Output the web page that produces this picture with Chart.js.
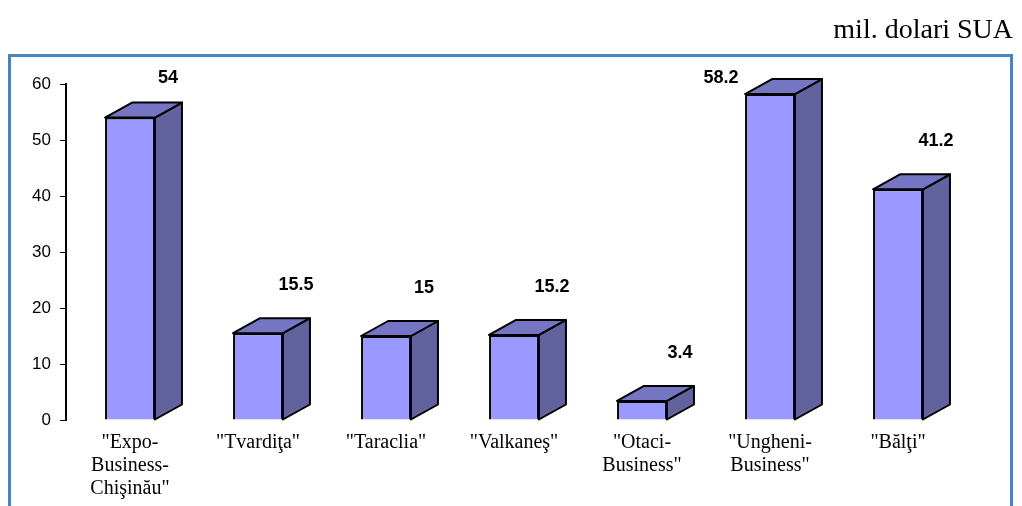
<!DOCTYPE html>
<html>
<head>
<meta charset="utf-8">
<script src="https://cdn.jsdelivr.net/npm/chart.js@4"></script>
<style>
    html, body { margin: 0; padding: 0; background: #fff; }
    #wrap { width: 1022px; height: 506px; position: relative; }
</style>
</head>
<body>
<div id="wrap"><canvas id="zoneChart"></canvas></div>
<script>
// free economic zones, mil. USD
const categories = [
    ['"Expo-', 'Business-', 'Chişinău"'],
    '"Tvardiţa"',
    '"Taraclia"',
    '"Valkaneş"',
    ['"Otaci-', 'Business"'],
    ['"Ungheni-', 'Business"'],
    '"Bălţi"'
];
const values = [54, 15.5, 15, 15.2, 3.4, 58.2, 41.2];
const yTicks = [0, 10, 20, 30, 40, 50, 60];

const unitLabel = "mil. dolari SUA";
const depthX = 27;
const depthY = 15;

// frame + unit text
const framePlugin = {
    id: "frame",
    beforeDraw(chart) {
        const ctx = chart.ctx;
        ctx.save();
        ctx.fillStyle = "#fff";
        ctx.fillRect(0, 0, chart.width, chart.height);
        ctx.strokeStyle = "#4f81bd";
        ctx.lineWidth = 3;
        ctx.strokeRect(9.5, 55.5, 1002, 480);
        ctx.fillStyle = "#000";
        ctx.font = "28px 'Liberation Serif'";
        ctx.textAlign = "right";
        ctx.textBaseline = "alphabetic";
        ctx.fillText(unitLabel, 1013, 38);
        ctx.restore();
    }
};

// side and top faces of the bars, drawn behind the front face
const boxPlugin = {
    id: "box3d",
    beforeDatasetsDraw(chart) {
        const ctx = chart.ctx;
        const meta = chart.getDatasetMeta(0);
        ctx.save();
        ctx.lineWidth = 2;
        ctx.lineJoin = "round";
        ctx.strokeStyle = "#000";
        meta.data.forEach(bar => {
            const half = bar.width / 2;
            const left = bar.x - half;
            const right = bar.x + half;
            const top = bar.y;
            const base = bar.base;

            ctx.beginPath();
            ctx.moveTo(right, top);
            ctx.lineTo(right + depthX, top - depthY);
            ctx.lineTo(right + depthX, base - depthY);
            ctx.lineTo(right, base);
            ctx.closePath();
            ctx.fillStyle = "#62629f";
            ctx.fill();
            ctx.stroke();

            ctx.beginPath();
            ctx.moveTo(left, top);
            ctx.lineTo(left + depthX, top - depthY);
            ctx.lineTo(right + depthX, top - depthY);
            ctx.lineTo(right, top);
            ctx.closePath();
            ctx.fillStyle = "#7575c4";
            ctx.fill();
            ctx.stroke();
        });
        ctx.restore();
    },
    afterDatasetsDraw(chart) {
        const ctx = chart.ctx;
        const meta = chart.getDatasetMeta(0);
        const minY = chart.chartArea.top - 6;
        ctx.save();
        ctx.fillStyle = "#000";
        ctx.font = "bold 18px 'Liberation Sans'";
        ctx.textAlign = "center";
        ctx.textBaseline = "middle";
        meta.data.forEach((bar, i) => {
            let x = bar.x + 38;
            let y = Math.max(bar.y - 48, minY);
            if (y > bar.y - depthY - 14) {
                // would sit on the box top: move it left of the bar
                x = bar.x - 49;
            }
            ctx.fillText(String(values[i]), x, y);
        });
        ctx.restore();
    }
};

new Chart(document.getElementById("zoneChart"), {
    type: "bar",
    data: {
        labels: categories,
        datasets: [{
            data: values,
            backgroundColor: "#9999ff",
            borderColor: "#000",
            borderWidth: 2,
            categoryPercentage: 1,
            barPercentage: 0.39
        }]
    },
    options: {
        responsive: true,
        maintainAspectRatio: false,
        animation: false,
        layout: {
            padding: { left: 0, right: 60, top: 84, bottom: 0 }
        },
        scales: {
            x: {
                grid: { display: false },
                border: { display: false },
                ticks: {
                    color: "#000",
                    padding: 3,
                    maxRotation: 0,
                    autoSkip: false,
                    font: { family: "'Liberation Serif'", size: 20, lineHeight: 1.15 }
                },
                afterFit(scale) { scale.height = 86; }
            },
            y: {
                min: 0,
                max: 60,
                afterBuildTicks(scale) {
                    scale.ticks = yTicks.map(v => ({ value: v }));
                },
                grid: {
                    drawOnChartArea: false,
                    drawTicks: true,
                    tickLength: 6,
                    color: "#000",
                    lineWidth: 1
                },
                border: { display: true, color: "#000", width: 2 },
                ticks: {
                    color: "#000",
                    padding: 9,
                    font: { family: "'Liberation Sans'", size: 17 }
                },
                afterFit(scale) { scale.width = 66; }
            }
        },
        plugins: {
            legend: { display: false },
            tooltip: { enabled: false }
        }
    },
    plugins: [framePlugin, boxPlugin]
});
</script>
</body>
</html>
